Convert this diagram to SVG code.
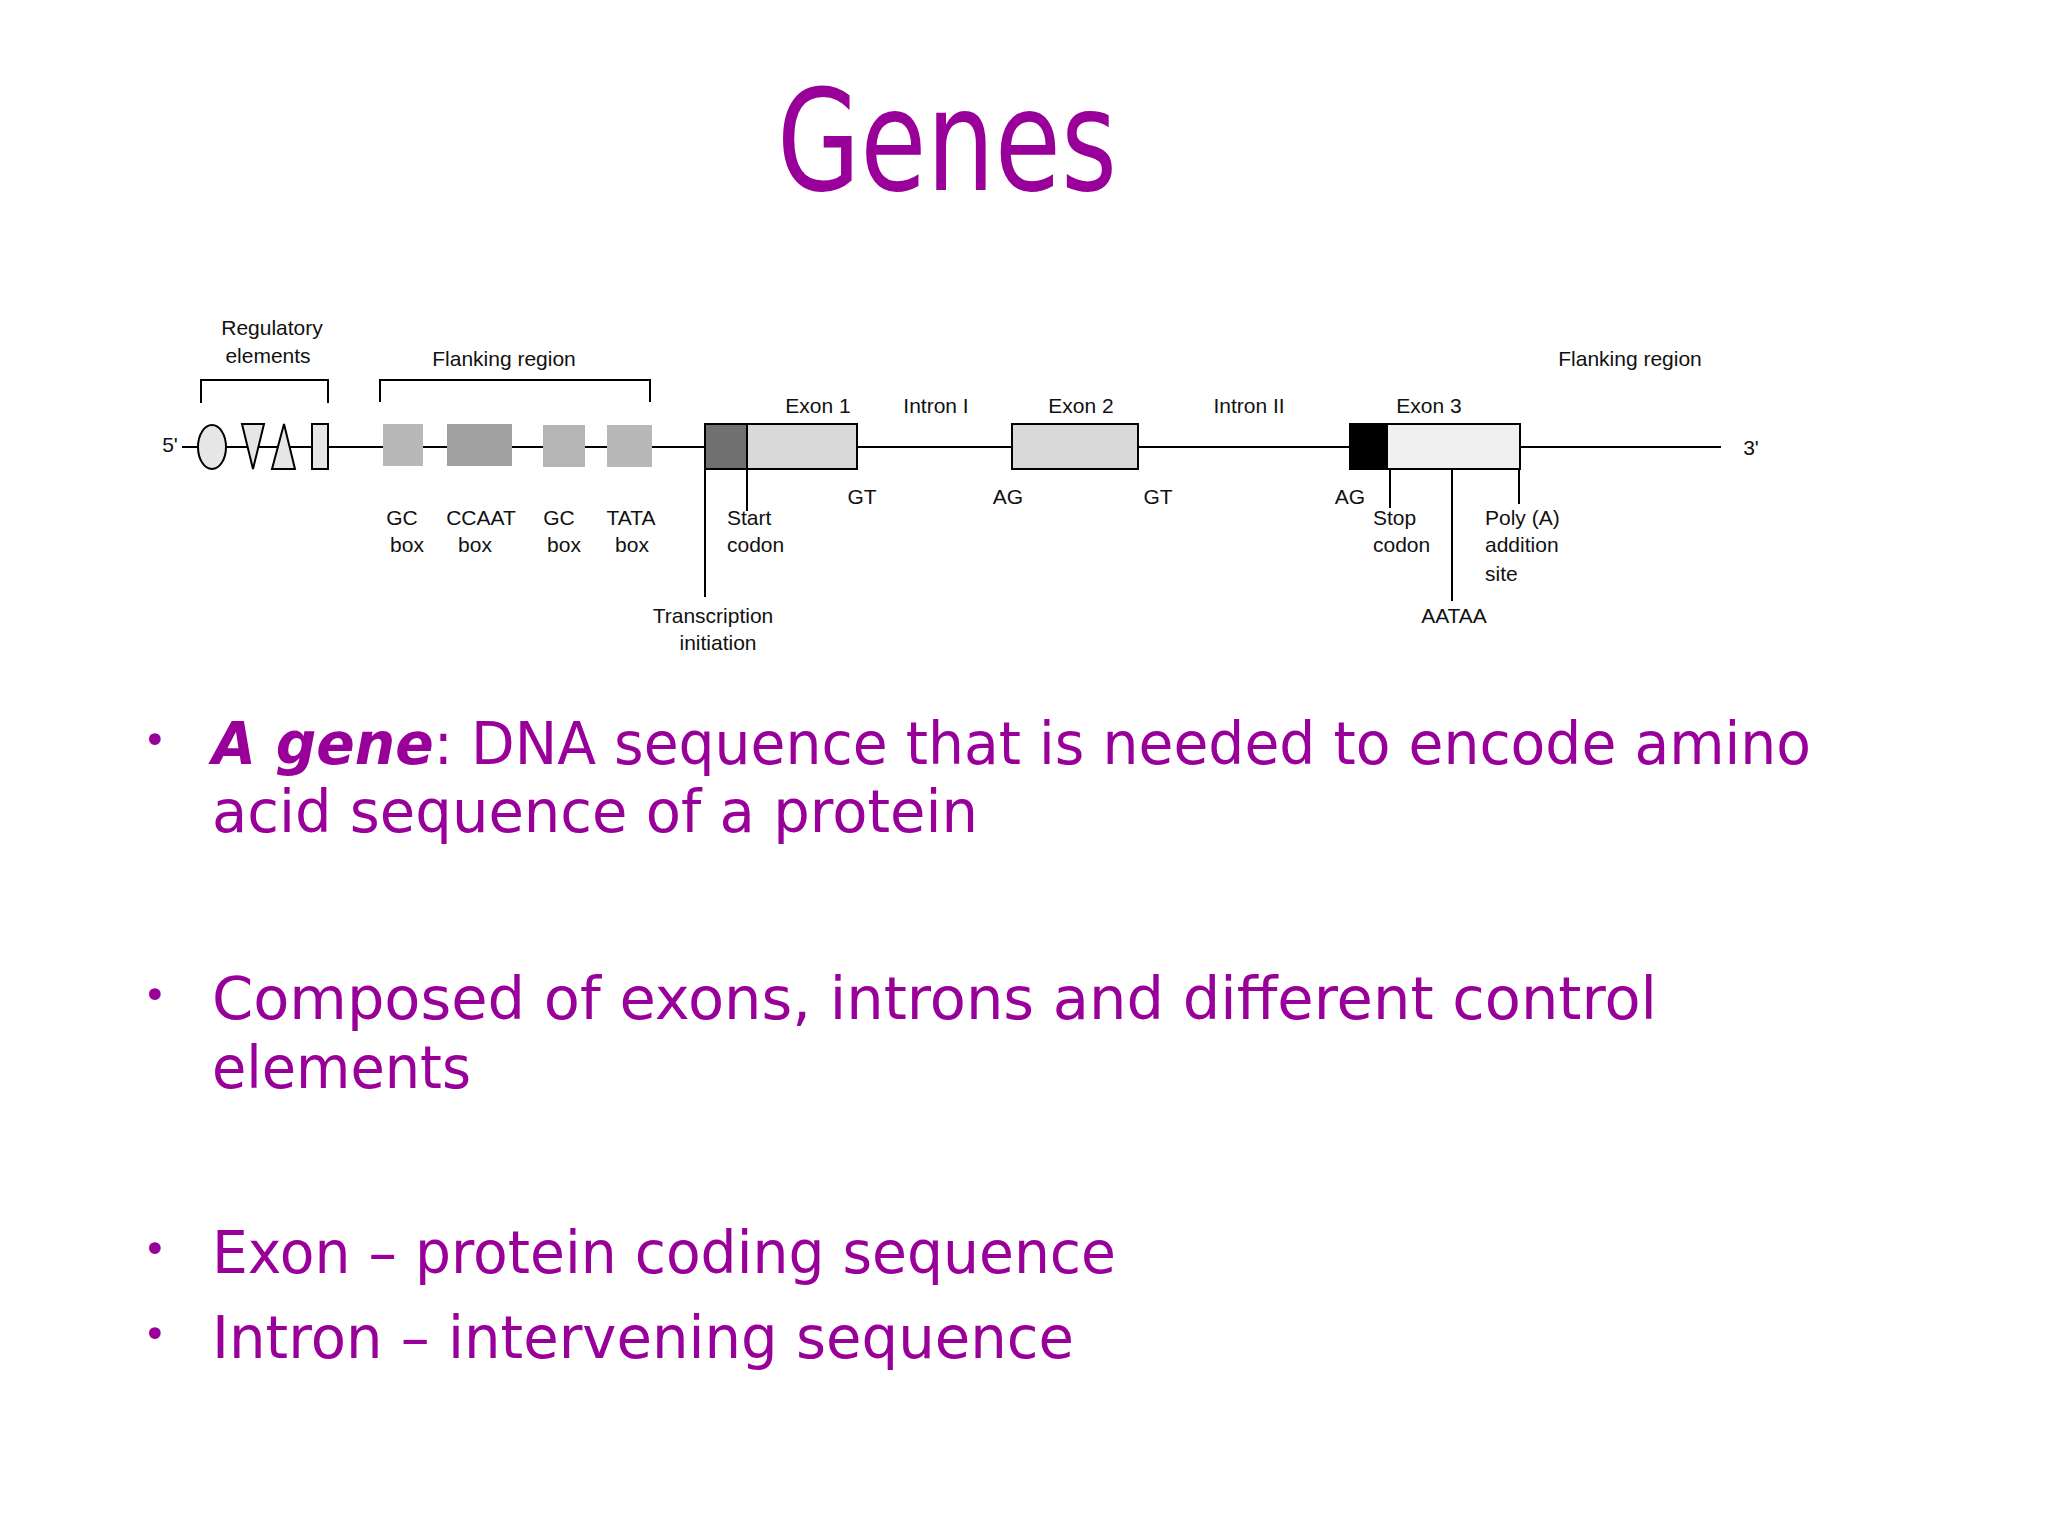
<svg xmlns="http://www.w3.org/2000/svg" width="2048" height="1536" viewBox="0 0 2048 1536">
<style>
.t{font-family:"Liberation Sans",Arial,sans-serif;font-size:21px;fill:#111}
.m{text-anchor:middle}
.p{font-family:"DejaVu Sans",sans-serif;fill:#990099}
.b{font-size:58px}
.ln{stroke:#000;stroke-width:2;fill:none}
.sh{stroke:#000;stroke-width:2}
</style>
<rect width="2048" height="1536" fill="#fff"/>
<text class="p" x="947" y="190" font-size="140" text-anchor="middle" textLength="340" lengthAdjust="spacingAndGlyphs">Genes</text>
<g id="connectors">
<line class="ln" x1="182" y1="447" x2="1721" y2="447"/>
<polyline class="ln" points="201,403 201,380 328,380 328,403"/>
<polyline class="ln" points="380,402 380,380 650,380 650,402"/>
<line class="ln" x1="705" y1="469" x2="705" y2="597"/>
<line class="ln" x1="747" y1="469" x2="747" y2="511"/>
<line class="ln" x1="1390" y1="469" x2="1390" y2="508"/>
<line class="ln" x1="1452" y1="469" x2="1452" y2="601"/>
<line class="ln" x1="1519" y1="469" x2="1519" y2="504"/>
</g>
<g id="regulatory">
<ellipse class="sh" cx="212" cy="447" rx="14" ry="22" fill="#e6e6e6"/>
<polygon class="sh" points="242,424 264,424 253,469" fill="#e6e6e6"/>
<polygon class="sh" points="284,424 272,469 295,469" fill="#e6e6e6"/>
<rect class="sh" x="312" y="424" width="16" height="45" fill="#e6e6e6"/>
</g>
<g id="boxes">
<rect x="383" y="424" width="40" height="42" fill="#b8b8b8"/>
<rect x="447" y="424" width="65" height="42" fill="#a0a0a0"/>
<rect x="543" y="425" width="42" height="42" fill="#b5b5b5"/>
<rect x="607" y="425" width="45" height="42" fill="#b8b8b8"/>
</g>
<g id="exon1">
<rect class="sh" x="705" y="424" width="42" height="45" fill="#707070"/>
<rect class="sh" x="747" y="424" width="110" height="45" fill="#d9d9d9"/>
</g>
<g id="exon2"><rect class="sh" x="1012" y="424" width="126" height="45" fill="#d9d9d9"/></g>
<g id="exon3">
<rect class="sh" x="1350" y="424" width="37" height="45" fill="#000"/>
<rect class="sh" x="1387" y="424" width="133" height="45" fill="#f0f0f0"/>
</g>
<g id="labels">
<text class="t m" x="272" y="335">Regulatory</text>
<text class="t m" x="268" y="363">elements</text>
<text class="t m" x="504" y="366">Flanking region</text>
<text class="t m" x="1630" y="366">Flanking region</text>
<text class="t m" x="818" y="413">Exon 1</text>
<text class="t m" x="936" y="413">Intron I</text>
<text class="t m" x="1081" y="413">Exon 2</text>
<text class="t m" x="1249" y="413">Intron II</text>
<text class="t m" x="1429" y="413">Exon 3</text>
<text class="t m" x="170" y="452">5'</text>
<text class="t m" x="1751" y="455">3'</text>
<text class="t m" x="862" y="504">GT</text>
<text class="t m" x="1008" y="504">AG</text>
<text class="t m" x="1158" y="504">GT</text>
<text class="t m" x="1350" y="504">AG</text>
<text class="t m" x="402" y="525">GC</text><text class="t m" x="407" y="552">box</text>
<text class="t m" x="481" y="525">CCAAT</text><text class="t m" x="475" y="552">box</text>
<text class="t m" x="559" y="525">GC</text><text class="t m" x="564" y="552">box</text>
<text class="t m" x="631" y="525">TATA</text><text class="t m" x="632" y="552">box</text>
<text class="t" x="727" y="525">Start</text><text class="t" x="727" y="552">codon</text>
<text class="t m" x="713" y="623">Transcription</text>
<text class="t m" x="718" y="650">initiation</text>
<text class="t" x="1373" y="525">Stop</text><text class="t" x="1373" y="552">codon</text>
<text class="t" x="1485" y="525">Poly (A)</text><text class="t" x="1485" y="552">addition</text><text class="t" x="1485" y="581">site</text>
<text class="t m" x="1454" y="623">AATAA</text>
</g>
<g id="bullets" class="p b">
<text x="143" y="754" font-size="40">•</text>
<text x="212" y="764" textLength="1599" lengthAdjust="spacingAndGlyphs"><tspan font-weight="bold" font-style="italic">A gene</tspan>: DNA sequence that is needed to encode amino</text>
<text x="212" y="832" textLength="766" lengthAdjust="spacingAndGlyphs">acid sequence of a protein</text>
<text x="143" y="1009" font-size="40">•</text>
<text x="212" y="1019" textLength="1445" lengthAdjust="spacingAndGlyphs">Composed of exons, introns and different control</text>
<text x="212" y="1088" textLength="259" lengthAdjust="spacingAndGlyphs">elements</text>
<text x="143" y="1263" font-size="40">•</text>
<text x="212" y="1273" textLength="904" lengthAdjust="spacingAndGlyphs">Exon – protein coding sequence</text>
<text x="143" y="1348" font-size="40">•</text>
<text x="212" y="1358" textLength="862" lengthAdjust="spacingAndGlyphs">Intron – intervening sequence</text>
</g>
</svg>
